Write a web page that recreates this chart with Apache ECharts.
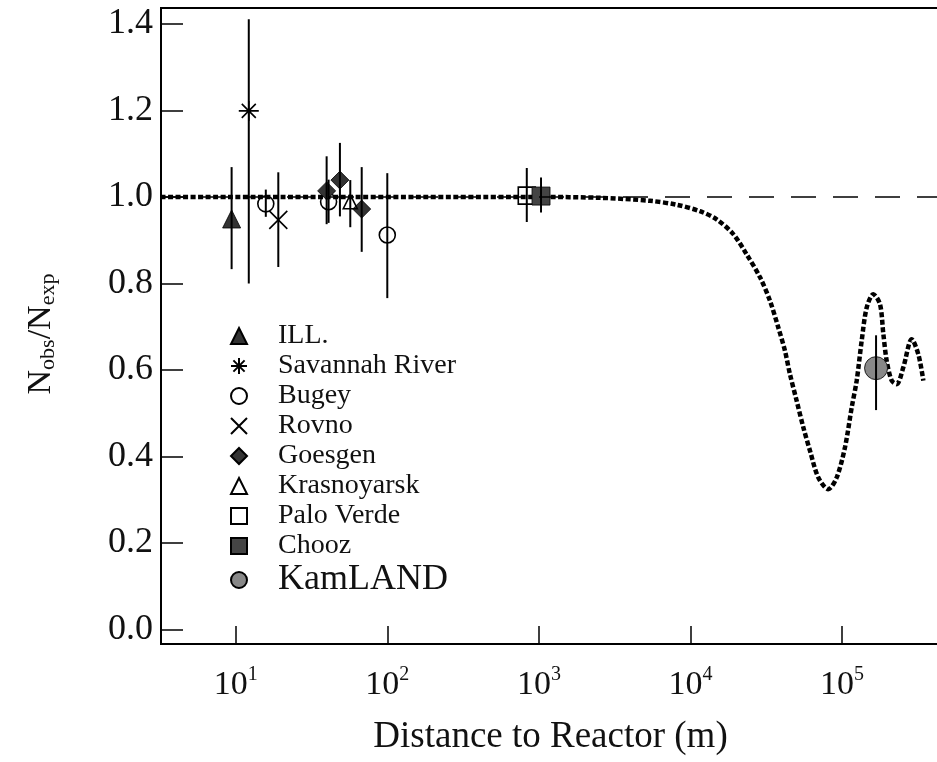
<!DOCTYPE html>
<html><head><meta charset="utf-8">
<script src="https://cdn.jsdelivr.net/npm/echarts@6/dist/echarts.min.js"></script>
<style>html,body{margin:0;padding:0;background:#fff}#c{width:937px;height:762px}</style>
</head><body><div id="c"></div>
<script>
const SERIF = '"Liberation Serif","Times New Roman",serif';
// each point: [distance (m), Nobs/Nexp, error low, error high]
const ill = [[9.4, 0.949, 0.833, 1.069]];
const savannahRiver = [[12.2, 1.199, 0.80, 1.411]];
const bugey = [[15.8, 0.984, 0.954, 1.017], [41, 0.989, 0.94, 1.04], [100, 0.912, 0.766, 1.055]];
const rovno = [[19.1, 0.947, 0.838, 1.057]];
const goesgen = [[39.8, 1.014, 0.937, 1.094], [48.7, 1.039, 0.955, 1.125], [67.8, 0.972, 0.873, 1.069]];
const krasnoyarsk = [[57, 0.989, 0.930, 1.039]];
const paloVerde = [[832, 1.003, 0.942, 1.067]];
const chooz = [[1033, 1.002, 0.964, 1.045]];
const kamland = [[167500, 0.604, 0.507, 0.68]];

// oscillation prediction curve
const oscDist = [3.2, 1000, 2530, 5410, 8110, 11540, 14880, 19150, 23480, 28760, 33500, 37950, 41990, 45300,
  50200, 55500, 61400, 69700, 81100, 92100, 104500, 115700, 124800, 134600, 145300, 160600, 177800,
  187100, 196900, 212500, 229200, 253500, 287900, 318400, 343600];
const oscRatio = [1.0, 1.0, 0.998, 0.991, 0.982, 0.967, 0.948, 0.914, 0.867, 0.814, 0.759, 0.698, 0.644, 0.590,
  0.528, 0.467, 0.413, 0.351, 0.324, 0.351, 0.421, 0.513, 0.575, 0.667, 0.744, 0.775, 0.752,
  0.683, 0.621, 0.575, 0.567, 0.606, 0.671, 0.636, 0.575];
const noOscRatio = 1.0;

const yTicks = [0, 0.2, 0.4, 0.6, 0.8, 1.0, 1.2, 1.4];
const xTickExps = [1, 2, 3, 4, 5];
const legendNames = ['ILL.', 'Savannah River', 'Bugey', 'Rovno', 'Goesgen', 'Krasnoyarsk', 'Palo Verde', 'Chooz', 'KamLAND'];

const ASTERISK = 'path://M10,0L10,20M0,10L20,10M3,3L17,17M17,3L3,17';
const CROSS = 'path://M0,0L20,20M20,0L0,20';

function scat(name, data, symbol, size, fill) {
  const open = fill === null;
  return {
    name, type: 'scatter', z: 3,
    data: data.map(d => [d[0], d[1]]),
    symbol, symbolSize: size,
    itemStyle: open
      ? { color: 'rgba(0,0,0,0)', borderColor: '#000', borderWidth: 1.6, opacity: 1 }
      : { color: fill, borderColor: '#000', borderWidth: 0.8, opacity: 1 },
    emphasis: { disabled: true }
  };
}

const allPts = [].concat(ill, savannahRiver, bugey, rovno, goesgen, krasnoyarsk, paloVerde, chooz, kamland);

const chart = echarts.init(document.getElementById('c'), null, { renderer: 'canvas' });
chart.setOption({
  animation: false,
  backgroundColor: '#fff',
  grid: { left: 161, right: -3, top: 8, bottom: 118, show: true, borderColor: '#000', borderWidth: 2,
          containLabel: false, outerBoundsMode: 'none' },
  legend: {
    orient: 'vertical', left: 225, top: 317, itemWidth: 16, itemHeight: 16, itemGap: 2,
    selectedMode: false, data: legendNames,
    formatter: n => n === 'KamLAND' ? '{k|' + n + '}' : '{t|' + n + '}',
    textStyle: { rich: {
      t: { fontFamily: SERIF, fontSize: 28, lineHeight: 30, padding: [0, 0, 0, 26], color: '#111' },
      k: { fontFamily: SERIF, fontSize: 36, lineHeight: 34, padding: [0, 0, 0, 26], color: '#111' }
    } }
  },
  xAxis: {
    type: 'log', logBase: 10, min: 3.216, max: 442400,
    axisLine: { show: true, onZero: false, lineStyle: { color: '#000', width: 2 } },
    axisTick: { show: true, inside: true, length: 18, lineStyle: { color: '#000', width: 1.5 } },
    minorTick: { show: false }, splitLine: { show: false }, minorSplitLine: { show: false },
    axisLabel: {
      margin: 21, showMinLabel: false, showMaxLabel: false,
      formatter: v => {
        const e = Math.log10(v), r = Math.round(e);
        if (Math.abs(e - r) > 1e-6 || xTickExps.indexOf(r) < 0) return '';
        return '{b|10}{s|' + r + '}';
      },
      rich: {
        b: { fontFamily: SERIF, fontSize: 34, lineHeight: 34, padding: [6, 0, 0, 0], color: '#111' },
        s: { fontFamily: SERIF, fontSize: 20, lineHeight: 20, verticalAlign: 'top', color: '#111' }
      }
    },
    name: 'Distance to Reactor (m)', nameLocation: 'middle', nameGap: 75,
    nameTextStyle: { fontFamily: SERIF, fontSize: 37, color: '#111' }
  },
  yAxis: {
    type: 'value', min: -0.034, max: 1.437,
    axisLine: { show: true, onZero: false, lineStyle: { color: '#000', width: 2 } },
    axisTick: { show: true, inside: true, length: 22, customValues: yTicks, lineStyle: { color: '#000', width: 1.5 } },
    splitLine: { show: false },
    axisLabel: { customValues: yTicks, formatter: v => v.toFixed(1), margin: 8,
                 fontFamily: SERIF, fontSize: 36, color: '#111' },
    name: '{n|N}{s|obs}{n|/N}{s|exp}', nameLocation: 'middle', nameRotate: 90, nameGap: 102,
    nameTextStyle: { padding: [0, 16, 0, 0], rich: {
      n: { fontFamily: SERIF, fontSize: 34, lineHeight: 36, color: '#111' },
      s: { fontFamily: SERIF, fontSize: 22, lineHeight: 14, verticalAlign: 'bottom', color: '#111' }
    } }
  },
  series: [
    {
      name: 'oscillation', type: 'line', z: 1, silent: true,
      data: oscDist.map((d, i) => [d, oscRatio[i]]),
      showSymbol: false, smooth: 0.3,
      lineStyle: { color: '#000', width: 4.5, type: [5, 2.5], cap: 'butt' },
      markLine: {
        silent: true, symbol: ['none', 'none'], label: { show: false },
        lineStyle: { color: '#000', width: 1.5, type: [25, 17] },
        data: [{ yAxis: noOscRatio }]
      }
    },
    scat('ILL.', ill, 'triangle', 18, '#333'),
    scat('Savannah River', savannahRiver, ASTERISK, 20, null),
    scat('Bugey', bugey, 'circle', 16, null),
    scat('Rovno', rovno, CROSS, 18, null),
    scat('Goesgen', goesgen, 'diamond', 18, '#333'),
    scat('Krasnoyarsk', krasnoyarsk, 'triangle', 14, null),
    scat('Palo Verde', paloVerde, 'rect', 17, null),
    scat('Chooz', chooz, 'rect', 18, '#444'),
    scat('KamLAND', kamland, 'circle', 23, '#888'),
    {
      name: 'errors', type: 'custom', z: 4, silent: true,
      data: allPts.map(d => [d[0], d[2], d[3]]),
      encode: { x: 0, y: [1, 2] },
      renderItem: (params, api) => {
        const p1 = api.coord([api.value(0), api.value(1)]);
        const p2 = api.coord([api.value(0), api.value(2)]);
        return { type: 'line', shape: { x1: p1[0], y1: p1[1], x2: p2[0], y2: p2[1] },
                 style: { stroke: '#000', lineWidth: 2 } };
      }
    }
  ]
});
</script>
</body></html>
